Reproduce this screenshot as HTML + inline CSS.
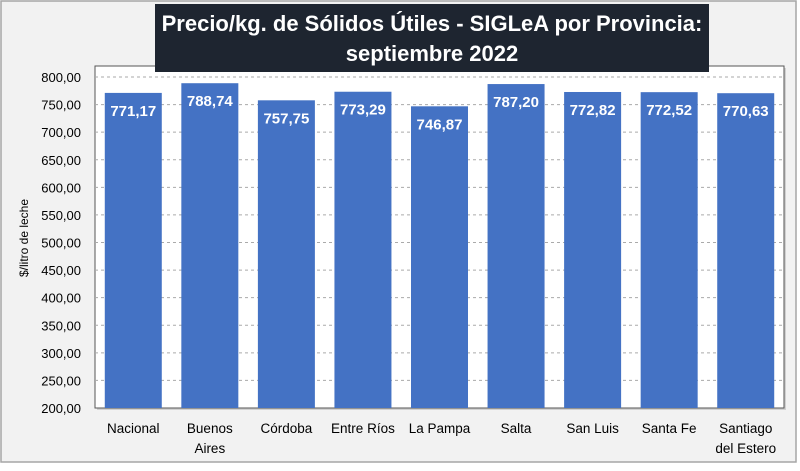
<!DOCTYPE html>
<html><head><meta charset="utf-8"><style>
html,body{margin:0;padding:0;background:#fff}
svg text{font-family:"Liberation Sans",sans-serif}
</style></head><body>
<svg width="800" height="466" viewBox="0 0 800 466">
<rect x="1" y="1" width="795" height="461" fill="#f2f2f2" stroke="#a6a6a6" stroke-width="1.5"/>
<rect x="97" y="68" width="689" height="342" fill="#bbb" opacity="0.6"/>
<rect x="95" y="66" width="689" height="342" fill="#fff" stroke="#555" stroke-width="1"/>
<g id="grid"></g>
<g id="bars"></g>
<g id="ylabels"></g>
<g id="xlabels"></g>
<text transform="translate(28,238) rotate(-90)" text-anchor="middle" font-size="12" fill="#000">$/litro de leche</text>
<rect x="155" y="4" width="554" height="68" fill="#1e2530"/>
<text x="432" y="31" text-anchor="middle" font-size="22" font-weight="bold" fill="#fff">Precio/kg. de Sólidos Útiles - SIGLeA por Provincia:</text>
<text x="432" y="61" text-anchor="middle" font-size="22" font-weight="bold" fill="#fff">septiembre 2022</text>
</svg>
<script>
const categories=["Nacional","Buenos|Aires","Córdoba","Entre Ríos","La Pampa","Salta","San Luis","Santa Fe","Santiago|del Estero"];
const values=[771.17,788.74,757.75,773.29,746.87,787.20,772.82,772.52,770.63];
const valueLabels=["771,17","788,74","757,75","773,29","746,87","787,20","772,82","772,52","770,63"];
const yTicks=[200,250,300,350,400,450,500,550,600,650,700,750,800];
const NS="http://www.w3.org/2000/svg";
const L=95,R=784,Y0=408,Y1=77,vmin=200,vmax=800;
function y(v){return Y0-(v-vmin)/(vmax-vmin)*(Y0-Y1);}
const bw=(R-L)/categories.length;
function xc(i){return L+bw*(i+0.5);}
function mk(t,a,p){const e=document.createElementNS(NS,t);for(const k in a)e.setAttribute(k,a[k]);p.appendChild(e);return e;}
const grid=document.getElementById('grid'),bars=document.getElementById('bars'),yl=document.getElementById('ylabels'),xl=document.getElementById('xlabels');
yTicks.forEach(t=>{
  if(t>vmin){const g=mk('line',{x1:L,x2:R,y1:y(t),y2:y(t),stroke:'#aaa','stroke-dasharray':'3,3','stroke-width':1},grid);
  
  }
  const tx=mk('text',{x:81,y:y(t)+5,'text-anchor':'end','font-size':'13',fill:'#000'},yl);
  tx.textContent=t.toFixed(2).replace('.',',');
  
  
});
values.forEach((v,i)=>{
  const w=57;
  const r=mk('rect',{x:xc(i)-w/2,y:y(v),width:w,height:Y0-y(v),fill:'#4472c4'},bars);
  
  
  const t=mk('text',{x:xc(i),y:y(v)+23,'text-anchor':'middle','font-size':'15','font-weight':'bold',fill:'#fff'},bars);
  t.textContent=valueLabels[i];
  
  
  categories[i].split('|').forEach((s,j)=>{
    const c=mk('text',{x:xc(i),y:433+j*20,'text-anchor':'middle','font-size':'13.5',fill:'#000'},xl);
    c.textContent=s;
    
    
  });
});
</script>
</body></html>
